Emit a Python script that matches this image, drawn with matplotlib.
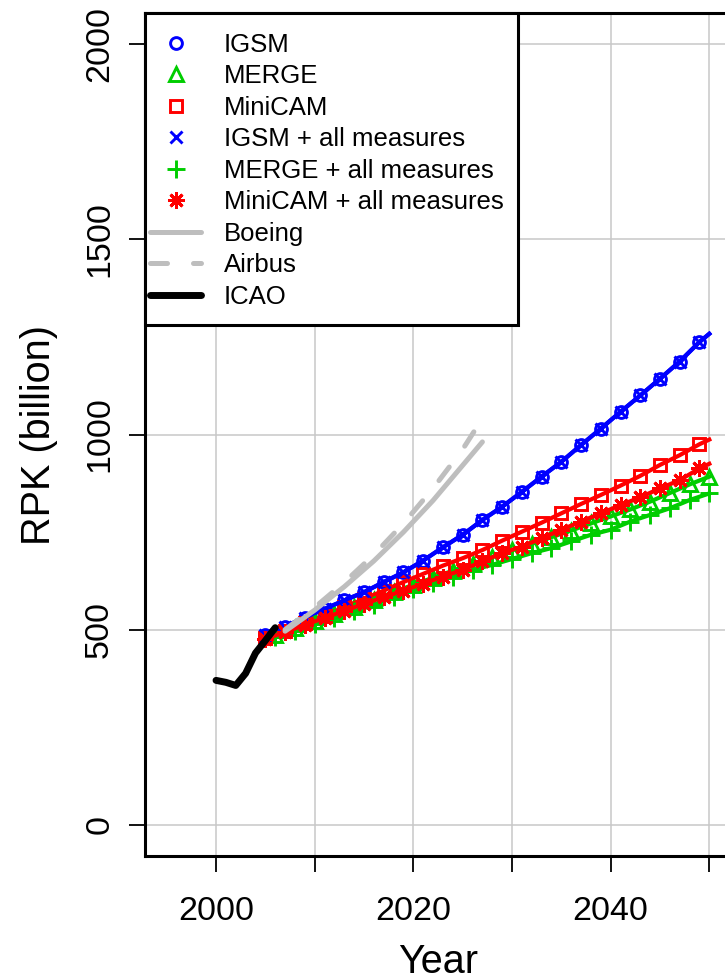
import matplotlib
matplotlib.use("Agg")
import matplotlib.pyplot as plt
from matplotlib.lines import Line2D
from matplotlib.patches import Rectangle

plt.rcParams['font.family'] = ['Liberation Sans', 'DejaVu Sans']

# ---------------- data ----------------
years_odd = [2005, 2007, 2009, 2011, 2013, 2015, 2017, 2019, 2021, 2023, 2025, 2027,
             2029, 2031, 2033, 2035, 2037, 2039, 2041, 2043, 2045, 2047, 2049, 2050]
years_even = [2006, 2008, 2010, 2012, 2014, 2016, 2018, 2020, 2022, 2024, 2026, 2028,
              2030, 2032, 2034, 2036, 2038, 2040, 2042, 2044, 2046, 2048, 2050]

igsm = [485, 508, 531, 553, 575, 596, 622, 647, 677, 711, 743, 781,
        815, 853, 892, 930, 973, 1015, 1058, 1100, 1143, 1187, 1237, 1258]
igsm_all = [485, 508, 531, 553, 575, 596, 622, 647, 677, 711, 743, 781,
            815, 853, 892, 930, 973, 1015, 1058, 1100, 1143, 1187, 1237, 1258]
minicam = [478, 497, 517, 536, 557, 579, 600, 622, 643, 664, 683, 704,
           728, 751, 774, 798, 822, 845, 869, 894, 922, 947, 975, 987]
minicam_all = [476, 494, 512, 530, 548, 566, 583, 600, 618, 636, 653, 675,
               696, 713, 734, 756, 777, 798, 819, 839, 862, 883, 913, 925]
merge = [485, 503, 521, 540, 558, 577, 596, 615, 633, 651, 669, 686,
         703, 720, 737, 754, 772, 790, 808, 828, 850, 872, 892]
merge_all = [480, 497, 514, 530, 547, 563, 583, 603, 619, 636, 653, 666,
             681, 696, 709, 726, 743, 756, 777, 794, 811, 832, 849]

boeing_years = [2007, 2010, 2013, 2016, 2019, 2022, 2025, 2027]
boeing = [496, 550, 610, 676, 750, 831, 921, 981]
airbus_years = [2007, 2010, 2013, 2016, 2019, 2022, 2025, 2027]
airbus = [500, 557, 621, 692, 772, 862, 962, 1041]
icao_years = [2000, 2001, 2002, 2003, 2004, 2005, 2006]
icao = [370, 365, 357, 388, 440, 472, 505]

x_ticks = [2000, 2010, 2020, 2030, 2040, 2050]
x_ticklabels = ['2000', '', '2020', '', '2040', '']
y_ticks = [0, 500, 1000, 1500, 2000]
y_ticklabels = ['0', '500', '1000', '1500', '2000']

legend_labels = ['IGSM', 'MERGE', 'MiniCAM', 'IGSM + all measures',
                 'MERGE + all measures', 'MiniCAM + all measures',
                 'Boeing', 'Airbus', 'ICAO']

# ---------------- styles ----------------
BLUE = '#0000FF'
GREEN = '#00CD00'
RED = '#FF0000'
GRAY = '#BEBEBE'
LW = 3.0
MEW = 2.1
ASTER = (8, 2, 0)
DASH = (0, (3.4, 5.2))
GLW = 3.6
ICAO_LW = 5.0

MK = {
    'o': dict(marker='o', ms=8.5, mfc='none', mew=MEW),
    '^': dict(marker='^', ms=10.5, mfc='none', mew=MEW),
    's': dict(marker='s', ms=8.5, mfc='none', mew=MEW),
    'x': dict(marker='x', ms=9, mew=MEW),
    '+': dict(marker='+', ms=13, mew=MEW),
    '*': dict(marker=ASTER, ms=12, mew=MEW),
}

fig = plt.figure(figsize=(7.25, 9.8), dpi=100)
W, H = 725, 980
ax_l, ax_r, ax_t, ax_b = 145, 731, 13, 856
ax = fig.add_axes([ax_l / W, 1 - ax_b / H, (ax_r - ax_l) / W, (ax_b - ax_t) / H])
ax.set_xlim(1992.8, 2052.2)
ax.set_ylim(-80, 2080)

ax.grid(True, color='#C8C8C8', lw=1.1, zorder=0)
ax.set_axisbelow(True)

skip_last = slice(0, len(years_odd) - 1)

ax.plot(years_odd, igsm, color=BLUE, lw=LW, mec=BLUE, markevery=skip_last, zorder=3, **MK['o'])
ax.plot(years_even, merge, color=GREEN, lw=LW, mec=GREEN, zorder=3, **MK['^'])
ax.plot(years_odd, minicam, color=RED, lw=LW, mec=RED, markevery=skip_last, zorder=3, **MK['s'])
ax.plot(years_odd, igsm_all, color=BLUE, lw=LW, mec=BLUE, markevery=skip_last, zorder=3, **MK['x'])
ax.plot(years_even, merge_all, color=GREEN, lw=LW, mec=GREEN, zorder=3, **MK['+'])
ax.plot(years_odd, minicam_all, color=RED, lw=LW, mec=RED, markevery=skip_last, zorder=3, **MK['*'])

ax.plot(boeing_years, boeing, color=GRAY, lw=GLW, solid_capstyle='round', zorder=4)
ax.plot(airbus_years, airbus, color=GRAY, lw=GLW, ls=DASH, dash_capstyle='round', zorder=4)
ax.plot(icao_years, icao, color='black', lw=ICAO_LW, solid_capstyle='round',
        solid_joinstyle='round', zorder=5)

# axes styling
for side in ['left', 'bottom', 'top', 'right']:
    ax.spines[side].set_linewidth(2.2)
    ax.spines[side].set_color('black')

ax.set_xticks(x_ticks)
ax.set_xticklabels(x_ticklabels)
ax.set_yticks(y_ticks)
ax.set_yticklabels(y_ticklabels)
ax.tick_params(axis='both', direction='out', length=11.5, width=1.3, labelsize=24.5,
               color='black')
ax.tick_params(axis='x', pad=17)
ax.tick_params(axis='y', pad=10)
for lbl in ax.get_yticklabels():
    lbl.set_rotation(90)
    lbl.set_va('center')

ax.set_xlabel('Year', fontsize=28.5, labelpad=12)
ax.set_ylabel('RPK (billion)', fontsize=28.5, labelpad=19)

# legend: box drawn as a rectangle, entries placed inside it
ax_w, ax_h = ax_r - ax_l, ax_b - ax_t
box_r, box_b = 518, 325
box = Rectangle((0, (ax_b - box_b) / ax_h), (box_r - ax_l) / ax_w, 1 - (ax_b - box_b) / ax_h,
                transform=ax.transAxes, facecolor='white', edgecolor='black', lw=2.2,
                zorder=9, clip_on=False)
ax.add_patch(box)

handles = [
    Line2D([], [], ls='none', mec=BLUE, **MK['o']),
    Line2D([], [], ls='none', mec=GREEN, **MK['^']),
    Line2D([], [], ls='none', mec=RED, **MK['s']),
    Line2D([], [], ls='none', mec=BLUE, **MK['x']),
    Line2D([], [], ls='none', mec=GREEN, **MK['+']),
    Line2D([], [], ls='none', mec=RED, **MK['*']),
    Line2D([], [], color=GRAY, lw=GLW, solid_capstyle='round'),
    Line2D([], [], color=GRAY, lw=GLW, ls=DASH, dash_capstyle='round'),
    Line2D([], [], color='black', lw=ICAO_LW, solid_capstyle='round'),
]
leg = ax.legend(handles, legend_labels, loc='upper left',
                bbox_to_anchor=(5 / ax_w, 1 - 20 / ax_h),
                borderaxespad=0, borderpad=0, fontsize=18.5, frameon=False,
                handlelength=2.0, handletextpad=0.88, labelspacing=0.29)
leg.set_zorder(10)

fig.savefig('out.png', dpi=100, facecolor='white')
